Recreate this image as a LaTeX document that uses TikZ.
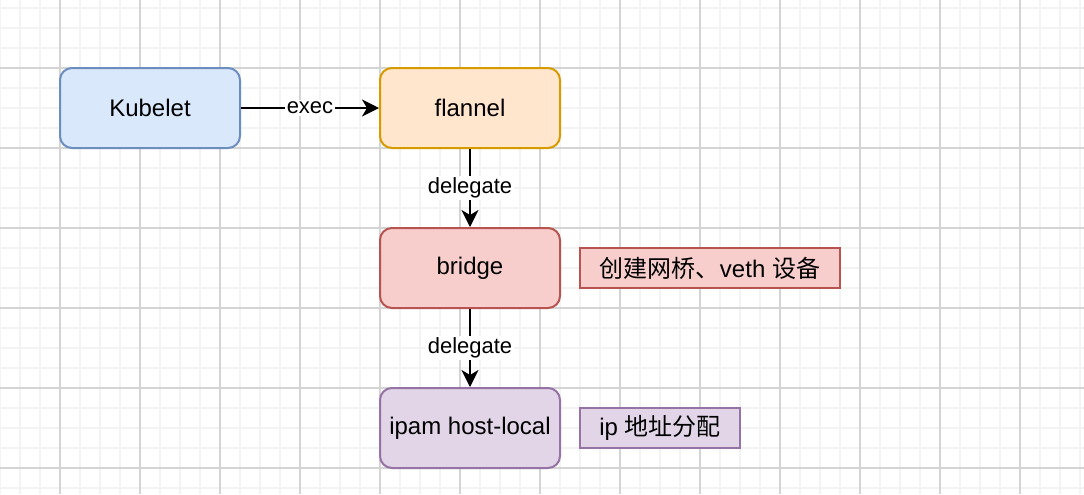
\documentclass[tikz,border=0pt]{standalone}
\usepackage{fontspec}
\setmainfont{Liberation Sans}
\newfontfamily\cjk{Noto Sans CJK SC}
\usetikzlibrary{positioning,arrows.meta}
\definecolor{bluefill}{HTML}{DAE8FC}
\definecolor{bluedraw}{HTML}{6C8EBF}
\definecolor{orangefill}{HTML}{FFE6CC}
\definecolor{orangedraw}{HTML}{D79B00}
\definecolor{redfill}{HTML}{F8CECC}
\definecolor{reddraw}{HTML}{B85450}
\definecolor{purplefill}{HTML}{E1D5E7}
\definecolor{purpledraw}{HTML}{9673A6}
\definecolor{gridminor}{HTML}{F3F3F3}
\definecolor{gridmajor}{HTML}{D4D4D4}
\begin{document}
\begin{tikzpicture}[x=0.5pt, y=-0.5pt,
    main/.style = {draw, rounded corners=6pt, line width=1pt, minimum width=90pt, minimum height=40pt, inner sep=0pt, font=\fontsize{12pt}{14pt}\selectfont},
    note/.style = {draw, line width=1pt, minimum height=20pt, inner sep=0pt, font=\fontsize{12pt}{14pt}\selectfont},
    lbl/.style = {fill=white, inner sep=1pt, font=\fontsize{11pt}{13pt}\selectfont},
    link/.style = {line width=1pt, -{Stealth[length=8.5pt, width=8.5pt, inset=2.5pt]}}]
    \useasboundingbox (0,0) rectangle (1084,494);
    \fill[white] (0,0) rectangle (1084,494);
    % grid
    \foreach \x in {0,20,...,1080} \draw[gridminor, line width=1pt] (\x,0) -- (\x,494);
    \foreach \y in {8,28,...,488} \draw[gridminor, line width=1pt] (0,\y) -- (1084,\y);
    \foreach \x in {60,140,...,1020} \draw[gridmajor, line width=0.6pt] (\x,0) -- (\x,494);
    \foreach \y in {68,148,...,468} \draw[gridmajor, line width=0.6pt] (0,\y) -- (1084,\y);

    \node[main, fill=bluefill, draw=bluedraw] (kubelet) at (150,108) {Kubelet};
    \node[main, fill=orangefill, draw=orangedraw] (flannel) [right=69pt of kubelet] {flannel};
    \node[main, fill=redfill, draw=reddraw] (bridge) [below=39pt of flannel] {bridge};
    \node[main, fill=purplefill, draw=purpledraw] (ipam) [below=39pt of bridge] {ipam host-local};
    \node[note, fill=redfill, draw=reddraw, minimum width=130pt] (bridgenote) at (710,268) {{\cjk 创建网桥、}veth {\cjk 设备}};
    \node[note, fill=purplefill, draw=purpledraw, minimum width=80pt] (ipamnote) at (660,428) {ip {\cjk 地址分配}};

    \draw[link] (kubelet) -- node[lbl] {exec} (flannel);
    \draw[link] (flannel) -- node[lbl] {delegate} (bridge);
    \draw[link] (bridge) -- node[lbl] {delegate} (ipam);
\end{tikzpicture}
\end{document}
